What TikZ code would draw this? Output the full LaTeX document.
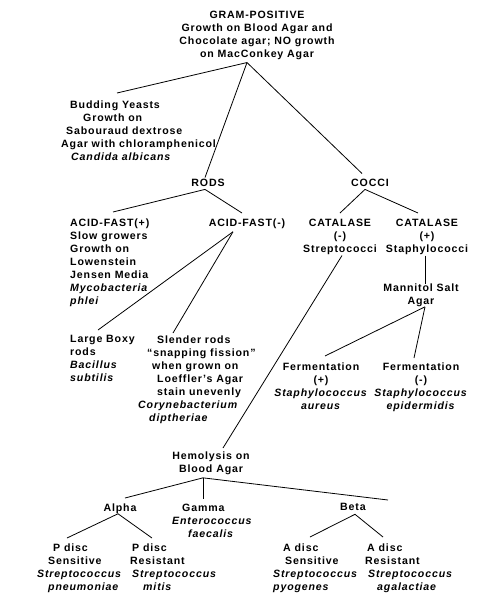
\documentclass[tikz,border=0pt]{standalone}
\usepackage{fontspec}
\setmainfont{Liberation Sans}[LetterSpace=8]
\usetikzlibrary{calc}
\begin{document}
\begin{tikzpicture}[x=1pt,y=-1pt,
  txt/.style={inner sep=0pt, font=\bfseries\fontsize{10.6}{13}\selectfont},
  ctr/.style={txt, align=center, anchor=north},
  lft/.style={txt, align=left, anchor=north west},
  link/.style={line width=0.8pt, black}]
\useasboundingbox (0,0) rectangle (485,600);
\fill[white] (0,0) rectangle (485,600);
\newcommand{\hs}[1]{\hspace*{#1pt}}
% nodes
\node[ctr] (gram) at (257,10.5) {GRAM-POSITIVE\\Growth on Blood Agar and\\Chocolate agar; NO growth\\on MacConkey Agar};
\node[lft] (yeast) at (61,100.5) {\hs{9}Budding Yeasts\\\hs{22}Growth on\\\hs{5}Sabouraud dextrose\\Agar with chloramphenicol\\\hs{10}\textit{Candida albicans}};
\node[ctr] (rods) at (208,178.5) {RODS};
\node[ctr] (cocci) at (370,178.5) {COCCI};
\node[lft] (afp) at (70,218.5) {ACID-FAST(+)\\Slow growers\\Growth on\\Lowenstein\\Jensen Media\\\textit{Mycobacteria}\\\textit{phlei}};
\node[ctr] (afn) at (247,218.5) {ACID-FAST(-)};
\node[ctr] (catn) at (340,218.5) {CATALASE\\(-)\\Streptococci};
\node[ctr] (catp) at (427,218.5) {CATALASE\\(+)\\Staphylococci};
\node[ctr] (manni) at (421,283.5) {Mannitol Salt\\Agar};
\node[lft] (lb) at (70,335.5) {Large Boxy\\rods\\\textit{Bacillus}\\\textit{subtilis}};
\node[lft] (sl) at (138,335.5) {\hs{19}Slender rods\\\hs{9}“snapping fission”\\\hs{14}when grown on\\\hs{19}Loeffler's Agar\\\hs{19}stain unevenly\\\textit{Corynebacterium}\\\hs{11}\textit{diptheriae}};
\node[ctr] (fermp) at (321,362.5) {Fermentation\\(+)\\\textit{Staphylococcus}\\\textit{aureus}};
\node[ctr] (fermn) at (421,362.5) {Fermentation\\(-)\\\textit{Staphylococcus}\\\textit{epidermidis}};
\node[ctr] (hemo) at (211,451.5) {Hemolysis on\\Blood Agar};
\node[ctr] (alpha) at (120,503.5) {Alpha};
\node[lft] (gamma) at (172,503.5) {\hs{10}Gamma\\\textit{Enterococcus}\\\hs{16}\textit{faecalis}};
\node[ctr] (beta) at (353,503.5) {Beta};
\node[lft] (pds) at (37,543.5) {\hs{16}P disc\\\hs{11}Sensitive\\\textit{Streptococcus}\\\hs{11}\textit{pneumoniae}};
\node[lft] (pdr) at (130,543.5) {\hs{2}P disc\\Resistant\\\hs{2}\textit{Streptococcus}\\\hs{13}\textit{mitis}};
\node[lft] (ads) at (273,543.5) {\hs{10}A disc\\\hs{12}Sensitive\\\textit{Streptococcus}\\\textit{pyogenes}};
\node[lft] (adr) at (365,543.5) {\hs{2}A disc\\Resistant\\\hs{3}\textit{Streptococcus}\\\hs{12}\textit{agalactiae}};
% connectors
\coordinate (gramapex) at ($(gram.south)+(-10,3)$);
\draw[link] (gramapex) -- ($(yeast.north west)+(56,-7.5)$);
\draw[link] (gramapex) -- ($(rods.north)+(-3,-1)$);
\draw[link] (gramapex) -- ($(cocci.north)+(-8,-5)$);
\coordinate (rodsapex) at ($(rods.south)+(-3,3)$);
\draw[link] (rodsapex) -- ($(afp.north west)+(43,-6.5)$);
\draw[link] (rodsapex) -- ($(afn.north)+(-5,-5.5)$);
\coordinate (afnapex) at ($(afn.south)+(-14,3)$);
\draw[link] (afnapex) -- ($(lb.north west)+(28,-5.5)$);
\draw[link] (afnapex) -- ($(sl.north west)+(35,-2.5)$);
\coordinate (cocciapex) at ($(cocci.south)+(-5,3)$);
\draw[link] (cocciapex) -- ($(catn.north)+(0,-5.5)$);
\draw[link] (cocciapex) -- ($(catp.north)+(-9,-5.5)$);
\draw[link] ($(catn.south)+(2,1)$) -- ($(hemo.north)+(12,-3.5)$);
\draw[link] ($(catp.south)+(-2,1)$) -- ($(manni.north)+(4,0)$);
\coordinate (manniapex) at ($(manni.south)+(4,0)$);
\draw[link] (manniapex) -- ($(fermp.north)+(4,-6.5)$);
\draw[link] (manniapex) -- ($(fermn.north)+(-7,-4.5)$);
\coordinate (hemoapex) at ($(hemo.south)+(-8,3)$);
\draw[link] (hemoapex) -- ($(alpha.north)+(5,-5.5)$);
\draw[link] (hemoapex) -- ($(gamma.north west)+(31,-4.5)$);
\draw[link] (hemoapex) -- ($(beta.north)+(35,-3.5)$);
\coordinate (alphaapex) at ($(alpha.south)+(-2,0)$);
\draw[link] (alphaapex) -- ($(pds.north west)+(30,-5.5)$);
\draw[link] (alphaapex) -- ($(pdr.north west)+(22,-5.5)$);
\coordinate (betaapex) at ($(beta.south)+(2,3)$);
\draw[link] (betaapex) -- ($(ads.north west)+(37,-6.5)$);
\draw[link] (betaapex) -- ($(adr.north west)+(18,-6.5)$);
\end{tikzpicture}
\end{document}
